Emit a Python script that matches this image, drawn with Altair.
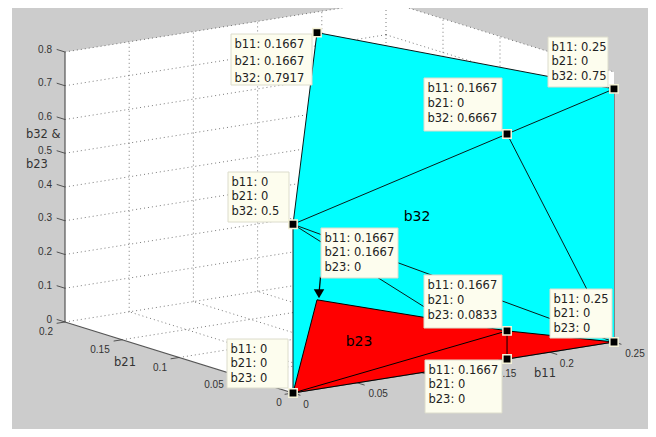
import altair as alt
import pandas as pd

# the page's drawable area in window pixels: left, right, top, bottom
PX0, PX1, PY0, PY1 = 8, 648, 8, 429

# ---- problem data (3-D vertices: b11, b21, height) ----
P_ORIGIN = (0, 0, 0)
P_TOP = (0.1667, 0.1667, 0.7917)
P_RIGHT_TOP = (0.25, 0, 0.75)
P_MID_TOP = (0.1667, 0, 0.6667)
P_LEFT_MID = (0, 0, 0.5)
P_APEX = (0.1667, 0.1667, 0)
P_MID_LOW = (0.1667, 0, 0.0833)
P_RIGHT = (0.25, 0, 0)
P_MID = (0.1667, 0, 0)

CYAN_POLY = [P_LEFT_MID, P_TOP, P_RIGHT_TOP, P_RIGHT, P_ORIGIN]
RED_POLY = [P_ORIGIN, P_APEX, P_MID_LOW, P_RIGHT, P_MID]
CYAN_EDGES = [
    (P_ORIGIN, P_LEFT_MID), (P_LEFT_MID, P_TOP), (P_TOP, P_RIGHT_TOP),
    (P_LEFT_MID, P_MID_TOP), (P_MID_TOP, P_RIGHT_TOP), (P_MID_TOP, P_RIGHT),
    (P_LEFT_MID, P_RIGHT), (P_LEFT_MID, P_MID),
]
RED_EDGES = [
    (P_ORIGIN, P_APEX), (P_APEX, P_MID_LOW), (P_MID_LOW, P_RIGHT),
    (P_ORIGIN, P_MID_LOW), (P_MID_LOW, P_MID), (P_ORIGIN, P_MID), (P_MID, P_RIGHT),
]
B11_TICKS = [0, 0.05, 0.1, 0.15, 0.2, 0.25]
B21_TICKS = [0, 0.05, 0.1, 0.15, 0.2]
Z_TICKS = [0, 0.1, 0.2, 0.3, 0.4, 0.5, 0.6, 0.7, 0.8]
B11_MAX, B21_MAX, Z_MAX = 0.25, 0.2, 0.8
B11_LABELS = [0, 0.05, 0.15, 0.2, 0.25]  # 0.1 sits fully behind a data tip

# data tips: texts, tip box (left, top, right, bottom), line spacing
TIPS = [
    (["b11: 0.1667", "b21: 0.1667", "b32: 0.7917"], (231, 34, 312, 85), 17),
    (["b11: 0.25", "b21: 0", "b32: 0.75"], (548, 37, 608, 87), 14.6),
    (["b11: 0.1667", "b21: 0", "b32: 0.6667"], (424, 78, 502, 131), 15),
    (["b11: 0", "b21: 0", "b32: 0.5"], (228, 172, 289, 222), 14.6),
    (["b11: 0.1667", "b21: 0.1667", "b23: 0"], (321, 228, 398, 278), 14.6),
    (["b11: 0.1667", "b21: 0", "b23: 0.0833"], (424, 275, 502, 328), 15),
    (["b11: 0.25", "b21: 0", "b23: 0"], (550, 289, 612, 338), 14.6),
    (["b11: 0.1667", "b21: 0", "b23: 0"], (425, 360, 502, 413), 14.6),
    (["b11: 0", "b21: 0", "b23: 0"], (227, 339, 288, 388), 14.6),
]
MARKED = [P_TOP, P_RIGHT_TOP, P_MID_TOP, P_LEFT_MID, P_MID_LOW, P_RIGHT, P_MID, P_ORIGIN]


def proj(p):
    a, b, c = p
    return (293 + 1284 * a - 1140 * b, 393 - 204 * a - 355 * b - 337.5 * c)


x_s = alt.Scale(domain=[PX0, PX1], range=[0, PX1 - PX0])
y_s = alt.Scale(domain=[PY0, PY1], range=[0, PY1 - PY0])
X = alt.X("x:Q", scale=x_s, axis=None)
Y = alt.Y("y:Q", scale=y_s, axis=None)
X2, Y2 = alt.X2("x2:Q"), alt.Y2("y2:Q")


def poly(points, color):
    rows = [{"x": proj(p)[0], "y": proj(p)[1], "o": i} for i, p in enumerate(points)]
    return alt.Chart(pd.DataFrame(rows)).mark_line(
        interpolate="linear-closed", fill=color, strokeWidth=0
    ).encode(x=X, y=Y, order="o:Q")


def segs(pairs):
    rows = []
    for a, b in pairs:
        pa, pb = proj(a), proj(b)
        rows.append({"x": pa[0], "y": pa[1], "x2": pb[0], "y2": pb[1]})
    return pd.DataFrame(rows)


def rule(pairs, **kw):
    return alt.Chart(segs(pairs)).mark_rule(**kw).encode(x=X, y=Y, x2=X2, y2=Y2)


def text(rows, **kw):
    return alt.Chart(pd.DataFrame(rows)).mark_text(**kw).encode(x=X, y=Y, text="t:N")


# page and axes background
bg = alt.Chart(pd.DataFrame([{"x": 12, "y": PY0, "x2": PX1, "y2": PY1}])).mark_rect(
    color="#cccccc").encode(x=X, y=Y, x2=X2, y2=Y2)
box = poly([(0, 0, 0), (B11_MAX, 0, 0), (B11_MAX, 0, Z_MAX), (B11_MAX, B21_MAX, Z_MAX),
            (0, B21_MAX, Z_MAX), (0, B21_MAX, 0)], "#ffffff")

# dotted grid
grid_pairs = []
for v in B11_TICKS[1:-1] + [B11_MAX]:
    grid_pairs.append(((v, B21_MAX, 0), (v, B21_MAX, Z_MAX)))
    grid_pairs.append(((v, 0, 0), (v, B21_MAX, 0)))
for v in B21_TICKS[1:-1]:
    grid_pairs.append(((B11_MAX, v, 0), (B11_MAX, v, Z_MAX)))
    grid_pairs.append(((0, v, 0), (B11_MAX, v, 0)))
grid_pairs.append(((0, B21_MAX, 0), (B11_MAX, B21_MAX, 0)))
grid_pairs.append(((B11_MAX, 0, 0), (B11_MAX, B21_MAX, 0)))
for z in Z_TICKS[1:]:
    grid_pairs.append(((0, B21_MAX, z), (B11_MAX, B21_MAX, z)))
    grid_pairs.append(((B11_MAX, B21_MAX, z), (B11_MAX, 0, z)))
grid = rule(grid_pairs, color="#222222", strokeWidth=0.8, strokeDash=[1, 3], opacity=0.75)

# axis lines and ticks
axis_pairs = [((0, B21_MAX, 0), (0, B21_MAX, Z_MAX)), ((0, B21_MAX, 0), (0, 0, 0)),
              ((0, 0, 0), (B11_MAX, 0, 0)), ((B11_MAX, 0, 0), (B11_MAX, 0, 0.75))]
axes = rule(axis_pairs, color="#555555", strokeWidth=1.2)
tick_pairs = [((0, B21_MAX, z), (0, B21_MAX + 0.0073, z)) for z in Z_TICKS]
tick_pairs += [((0, v, 0), (-0.0065, v, 0)) for v in B21_TICKS]
tick_pairs += [((v, 0, 0), (v, -0.0065, 0)) for v in B11_TICKS]
ticks = rule(tick_pairs, color="#444444", strokeWidth=0.9)

# tick labels
font = "Liberation Sans"
z_rows = [{"x": 52, "y": proj((0, B21_MAX, z))[1] - 2.5, "t": f"{z:g}"} for z in Z_TICKS]
z_labels = text(z_rows, font=font, fontSize=10, color="#333333", align="right", baseline="middle")
b21_rows = [{"x": proj((0, v, 0))[0] - dx, "y": proj((0, v, 0))[1] + 10, "t": f"{v:g}"}
            for v, dx in zip(B21_TICKS, [14, 22, 19, 22, 19])]
b11_rows = [{"x": proj((v, 0, 0))[0] + dx, "y": proj((v, 0, 0))[1] + 11.5, "t": f"{v:g}"}
            for v, dx in zip(B11_LABELS, [13, 21, 21, 17, 21])]
xy_labels = text(b21_rows + b11_rows, font=font, fontSize=10, color="#333333",
                 align="center", baseline="middle")

# axis titles
titles = text([{"x": 125, "y": 363, "t": "b21"}, {"x": 545, "y": 374, "t": "b11"}],
              font="DejaVu Sans", fontSize=11.5, color="#333333", align="center", baseline="middle")
ztitle = text([{"x": 26, "y": 135, "t": "b32 &"}, {"x": 26, "y": 165, "t": "b23"}],
              font="DejaVu Sans", fontSize=11.5, color="#333333", align="left", baseline="middle")

# surface labels
surface = text([{"x": 417, "y": 217, "t": "b32"}, {"x": 359, "y": 342, "t": "b23"}],
               font="DejaVu Sans", fontSize=14, color="#000000", align="center", baseline="middle")

# datatip arrow onto the b23 apex
ax, ay = proj(P_APEX)
arrow_line = alt.Chart(pd.DataFrame([{"x": ax + 3.5, "y": ay - 23, "x2": ax + 2, "y2": ay - 6}])
                       ).mark_rule(color="black", strokeWidth=1.3).encode(x=X, y=Y, x2=X2, y2=Y2)
arrow_head = alt.Chart(pd.DataFrame([{"x": ax + 2, "y": ay - 6}])).mark_point(
    shape="triangle-down", size=110, filled=True, color="black", opacity=1).encode(x=X, y=Y)

# tips
box_rows, tip_rows = [], []
for lines, (l, t, r, b), step in TIPS:
    box_rows.append({"x": l, "y": t, "x2": r, "y2": b})
    for i, s in enumerate(lines):
        tip_rows.append({"x": l + 3.5, "y": t + 10.5 + step * i, "t": s})
tip_boxes = alt.Chart(pd.DataFrame(box_rows)).mark_rect(
    fill="#fdfdee", stroke="#dcdccc", strokeWidth=1).encode(x=X, y=Y, x2=X2, y2=Y2)
tip_text = text(tip_rows, font="DejaVu Sans", fontSize=11.5, color="#222222",
                align="left", baseline="middle")
marker_rows = [{"x": proj(p)[0], "y": proj(p)[1]} for p in MARKED]
markers = alt.Chart(pd.DataFrame(marker_rows)).mark_point(
    shape="square", size=70, filled=True, fill="black", stroke="#f5f3d8",
    strokeWidth=1.5, opacity=1).encode(x=X, y=Y)

chart = alt.layer(
    bg, box, grid, axes, ticks, z_labels, xy_labels, titles, ztitle,
    poly(CYAN_POLY, "#00ffff"), rule(CYAN_EDGES, color="#0a1a1a", strokeWidth=1),
    poly(RED_POLY, "#ff0000"), rule(RED_EDGES, color="#000000", strokeWidth=1),
    surface, arrow_line, arrow_head, tip_boxes, tip_text, markers,
).properties(
    width=PX1 - PX0, height=PY1 - PY0, padding=0,
    autosize=alt.AutoSizeParams(type="none"),
).configure_view(stroke=None)

chart.save("out.html", embed_options={"renderer": "svg", "actions": False})
